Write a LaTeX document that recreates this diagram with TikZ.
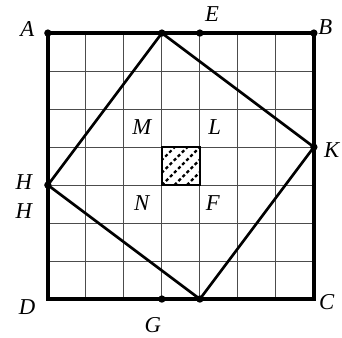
\documentclass[tikz,border=0pt]{standalone}
\usepackage{fontspec}
\setmainfont{Liberation Serif}
\begin{document}
\begin{tikzpicture}[font=\fontsize{17}{19}\selectfont\itshape,
          grid line/.style={draw=black!70, line width=0.6pt},
          frame/.style={line width=2.8pt, line cap=round},
          side/.style={line width=2pt, line join=miter},
          hatch/.style={line width=1.7pt, dash pattern=on 2.4pt off 1.9pt},
          pt/.style={circle, fill, inner sep=0pt, minimum size=5.5pt},
          lbl/.style={inner sep=0pt}]
        \useasboundingbox (-1.26,-1.02) rectangle (7.74,7.87);
        % squared paper 7 x 7
        \draw[grid line] (0,0) grid (7,7);
        \coordinate (D) at (0,0); \coordinate (C) at (7,0);
        \coordinate (B) at (7,7); \coordinate (A) at (0,7);
        \coordinate (P) at (3,7); \coordinate (K) at (7,4);
        \coordinate (Q) at (4,0); \coordinate (H) at (0,3);
        \coordinate (E) at (4,7); \coordinate (G) at (3,0);
        % shaded cell in the middle
        \begin{scope}
          \clip (3,3) rectangle (4,4);
          \foreach \s in {-0.66,-0.33,0,0.33,0.66}
            \draw[hatch] (3+\s,3) -- ++(1,1);
        \end{scope}
        \draw[line width=2pt] (3,3) rectangle (4,4);
        \draw[frame] (A) -- (B) -- (C) -- (D) -- cycle;
        \draw[side] (P) -- (K) -- (Q) -- (H) -- cycle;
        \foreach \p in {A,B,P,E,K,H,G,Q}
          \node[pt] at (\p) {};
        \node[lbl] (lA) at (-0.54,7.1) {A};
        \node[lbl] (lE) at (4.32,7.5) {E};
        \node[lbl] (lB) at (7.3,7.15) {B};
        \node[lbl] (lM) at (2.47,4.53) {M};
        \node[lbl] (lL) at (4.39,4.53) {L};
        \node[lbl] (lK) at (7.47,3.93) {K};
        \node[lbl] (lH) at (-0.63,3.08) {H};
        \node[lbl] (lH2) at (-0.63,2.32) {H};
        \node[lbl] (lN) at (2.47,2.53) {N};
        \node[lbl] (lF) at (4.34,2.53) {F};
        \node[lbl] (lD) at (-0.55,-0.2) {D};
        \node[lbl] (lC) at (7.34,-0.08) {C};
        \node[lbl] (lG) at (2.76,-0.68) {G};
      \end{tikzpicture}
\end{document}
